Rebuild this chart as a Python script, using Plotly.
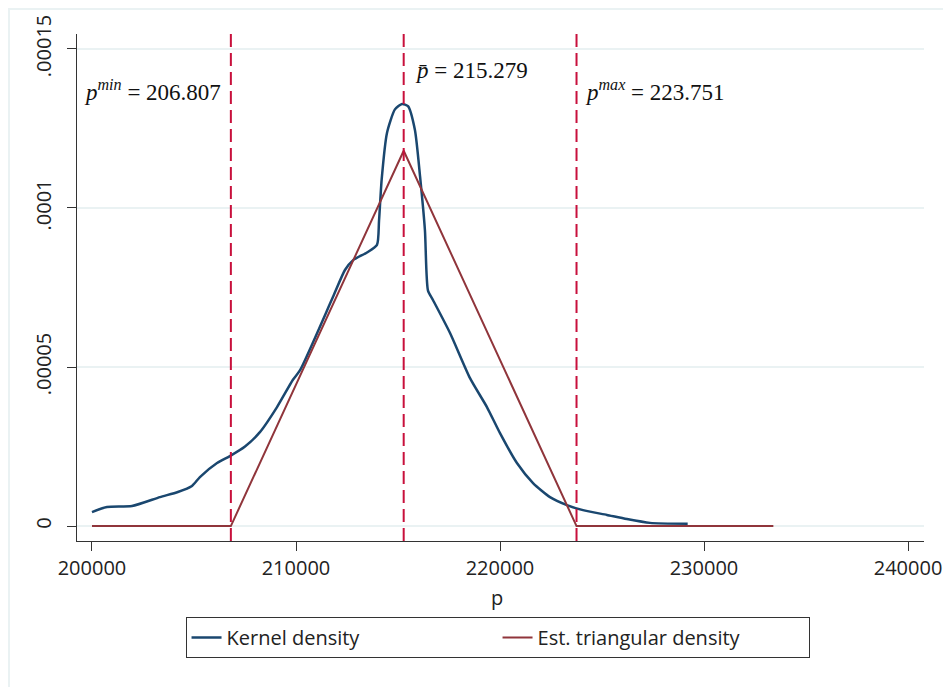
import plotly.graph_objects as go

# Kernel density
kd_p = [200000, 200735, 201960, 203330, 204210, 204900, 205290, 206130, 206760,
        207500, 208240, 209070, 209850, 210200, 211810, 212400, 212800, 213480,
        213970, 214070, 214200, 214460, 214850, 215200, 215490, 215830, 216080,
        216320, 216470, 216720, 217550, 218530, 219360, 220000, 220830, 221620,
        222450, 223280, 224070, 225240, 226220, 227350, 229200]
kd_d = [4.4e-6, 6.0e-6, 6.3e-6, 9.1e-6, 1.07e-5, 1.26e-5, 1.54e-5, 1.98e-5, 2.2e-5,
        2.5e-5, 2.96e-5, 3.74e-5, 4.6e-5, 4.9e-5, 7.2e-5, 8.05e-5, 8.36e-5, 8.6e-5,
        8.84e-5, 9.6e-5, 1.09e-4, 1.236e-4, 1.31e-4, 1.327e-4, 1.32e-4, 1.245e-4, 1.1e-4,
        9.3e-5, 7.4e-5, 7.1e-5, 6.07e-5, 4.65e-5, 3.74e-5, 2.92e-5, 1.98e-5, 1.35e-5,
        9.1e-6, 6.6e-6, 5.0e-6, 3.5e-6, 2.2e-6, 1.0e-6, 7e-7]

# Estimated triangular density
tri_p = [200000, 206807, 215279, 223751, 233400]
tri_d = [0, 0, 0.000118, 0, 0]

# Reference lines and labels
vline_x = [206807, 215279, 223751]
vline_labels = ["<i>p</i><sup><i>min</i></sup> = 206.807",
                "<i>p\u0304</i> = 215.279",
                "<i>p</i><sup><i>max</i></sup> = 223.751"]
label_y = [0.0001368, 0.0001432, 0.0001368]

x_ticks = [200000, 210000, 220000, 230000, 240000]
x_ticktext = ["200000", "210000", "220000", "230000", "240000"]
y_ticks = [0, 0.00005, 0.0001, 0.00015]
y_ticktext = ["0", ".00005", ".0001", ".00015"]
x_title = "p"

BLUE = "#1a476f"
MAROON = "#90353b"
CRIMSON = "#c8103c"
GRID = "#eaf2f3"
FONT = "Open Sans"

fig = go.Figure()
fig.add_trace(go.Scatter(x=kd_p, y=kd_d, mode="lines", name="Kernel density",
                         line=dict(color=BLUE, width=2.5, shape="spline", smoothing=0.6)))
fig.add_trace(go.Scatter(x=tri_p, y=tri_d, mode="lines", name="Est. triangular density",
                         line=dict(color=MAROON, width=2)))

shapes = []
for xv in vline_x:
    shapes.append(dict(type="line", xref="x", yref="paper", x0=xv, x1=xv, y0=0, y1=1,
                       line=dict(color=CRIMSON, width=2, dash="13px,6px"), layer="above"))
# outer graph-region frame
shapes.append(dict(type="rect", xref="paper", yref="paper",
                   x0=-0.0803, x1=1.0260, y0=-0.35, y1=1.0493,
                   line=dict(color=GRID, width=2), layer="below"))

annotations = []
shifts = [(-8, "right"), (9, "left"), (6, "left")]
for xv, txt, yv, (sh, anc) in zip(vline_x, vline_labels, label_y, shifts):
    annotations.append(dict(x=xv, y=yv, xref="x", yref="y", text=txt, showarrow=False,
                            xanchor=anc, yanchor="middle", xshift=sh,
                            font=dict(family="Liberation Serif", size=23, color="#111")))
# x-axis title
annotations.append(dict(x=0.496, y=-0.0835, xref="paper", yref="paper", text=x_title,
                        showarrow=False, xanchor="center", yanchor="top", borderpad=0,
                        font=dict(family=FONT, size=20, color="#222")))

fig.update_layout(
    width=939, height=679,
    margin=dict(l=69, r=23, t=26, b=146, autoexpand=False),
    paper_bgcolor="white", plot_bgcolor="white",
    font=dict(family=FONT, size=20, color="#222"),
    shapes=shapes, annotations=annotations,
    showlegend=True,
    legend=dict(orientation="h", x=0.4965, xanchor="center", y=-0.15, yanchor="top",
                bordercolor="#333", borderwidth=1, entrywidth=266,
                font=dict(family=FONT, size=20, color="#222"),
                itemclick=False),
)
fig.update_xaxes(range=[199265, 240784], tickvals=x_ticks, ticktext=x_ticktext,
                 showgrid=False, zeroline=False, showline=True, linecolor="#333",
                 linewidth=1, ticks="outside", ticklen=9, tickcolor="#333",
                 ticklabelstandoff=0, automargin=False,
                 tickfont=dict(family=FONT, size=20, color="#222"))
fig.update_yaxes(range=[-0.0000047, 0.0001547], tickvals=y_ticks, ticktext=y_ticktext,
                 showgrid=True, gridcolor=GRID, gridwidth=2, zeroline=False,
                 showline=True, linecolor="#333", linewidth=1, ticks="outside",
                 ticklen=9, tickcolor="#333", tickangle=-90, ticklabelstandoff=8,
                 automargin=False,
                 tickfont=dict(family=FONT, size=20, color="#222"))

fig.write_html("out.html")
